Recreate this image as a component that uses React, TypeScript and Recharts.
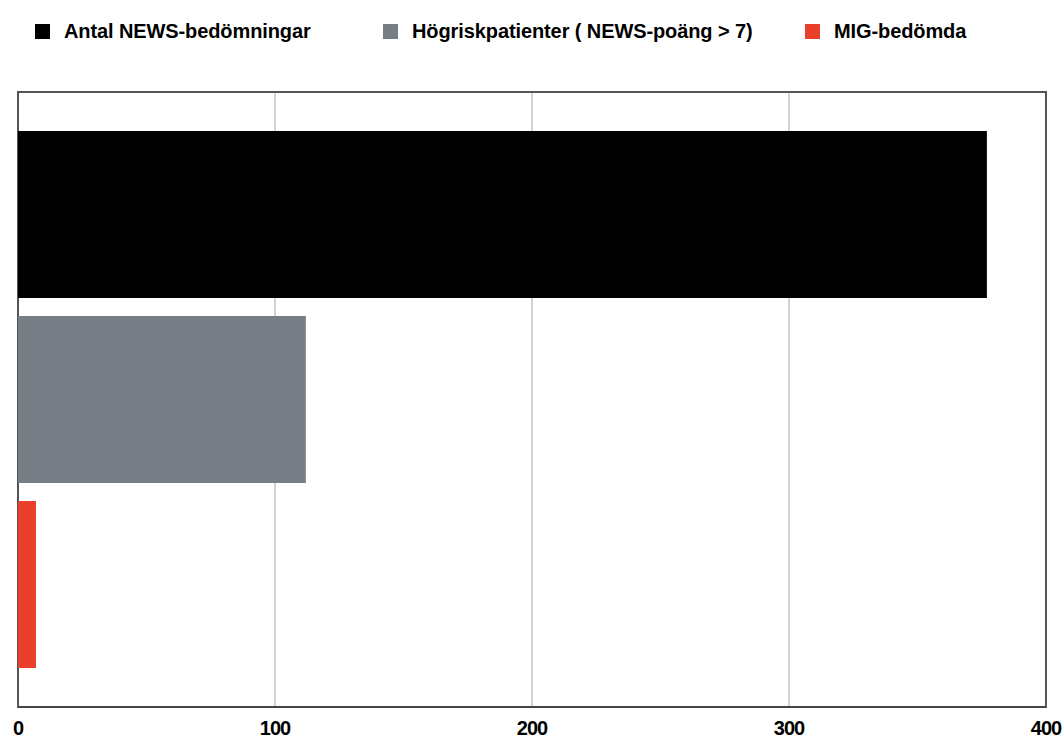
import { BarChart, Bar, XAxis, YAxis, CartesianGrid, Legend, ReferenceArea } from 'recharts'

const CATEGORIES = ['']
const NEWS_TOTAL = [377]
const HIGH_RISK = [112]
const MIG = [7]
const X_TICKS = [0, 100, 200, 300, 400]

const SERIES = [
  { key: 'total', label: 'Antal NEWS-bedömningar', color: '#000000', left: 35 },
  { key: 'highRisk', label: 'Högriskpatienter ( NEWS-poäng > 7)', color: '#787e85', left: 383 },
  { key: 'mig', label: 'MIG-bedömda', color: '#e8402a', left: 805 },
]

const data = CATEGORIES.map((name, i) => ({
  name,
  total: NEWS_TOTAL[i],
  highRisk: HIGH_RISK[i],
  mig: MIG[i],
}))

const FONT = '"Liberation Sans", Arial, sans-serif'
const LEGEND_H = 60

function TopLegend() {
  return (
    <div style={{ position: 'relative', width: 1064, height: LEGEND_H }}>
      {SERIES.map((s) => (
        <div
          key={s.key}
          style={{
            position: 'absolute', left: s.left, top: 19, display: 'flex', alignItems: 'center',
            fontFamily: FONT, fontSize: 20, fontWeight: 'bold', color: '#000', letterSpacing: -0.1,
            whiteSpace: 'nowrap', lineHeight: '24px',
          }}
        >
          <span style={{ display: 'inline-block', width: 15, height: 15, background: s.color, marginRight: 14 }} />
          {s.label}
        </div>
      ))}
    </div>
  )
}

export default function App() {
  return (
    <div style={{ position: 'absolute', left: 0, top: 0, width: 1064, height: 738, background: '#fff', overflow: 'hidden' }}>
      <BarChart
        width={1064}
        height={738}
        data={data}
        layout="vertical"
        margin={{ top: 92 - LEGEND_H, right: 18, bottom: 0, left: 18 }}
        barSize={167}
        barGap={18}
      >
        <CartesianGrid horizontal={false} stroke="#c4c4c4" strokeWidth={1.5} />
        <XAxis
          type="number"
          domain={[0, 400]}
          ticks={X_TICKS}
          height={31}
          tickLine={false}
          tickSize={0}
          tickMargin={14}
          axisLine={{ stroke: '#444', strokeWidth: 2 }}
          tick={{ fill: '#000', fontSize: 20, fontWeight: 'bold', fontFamily: FONT, letterSpacing: -1 }}
          interval={0}
        />
        <YAxis type="category" dataKey="name" hide />
        <Legend verticalAlign="top" wrapperStyle={{ top: 0, left: 0 }} content={() => <TopLegend />} />
        {SERIES.map((s) => (
          <Bar key={s.key} dataKey={s.key} name={s.label} fill={s.color} isAnimationActive={false} />
        ))}
        <ReferenceArea x1={0} x2={400} fill="none" stroke="#555" strokeWidth={2} ifOverflow="visible" />
      </BarChart>
    </div>
  )
}
